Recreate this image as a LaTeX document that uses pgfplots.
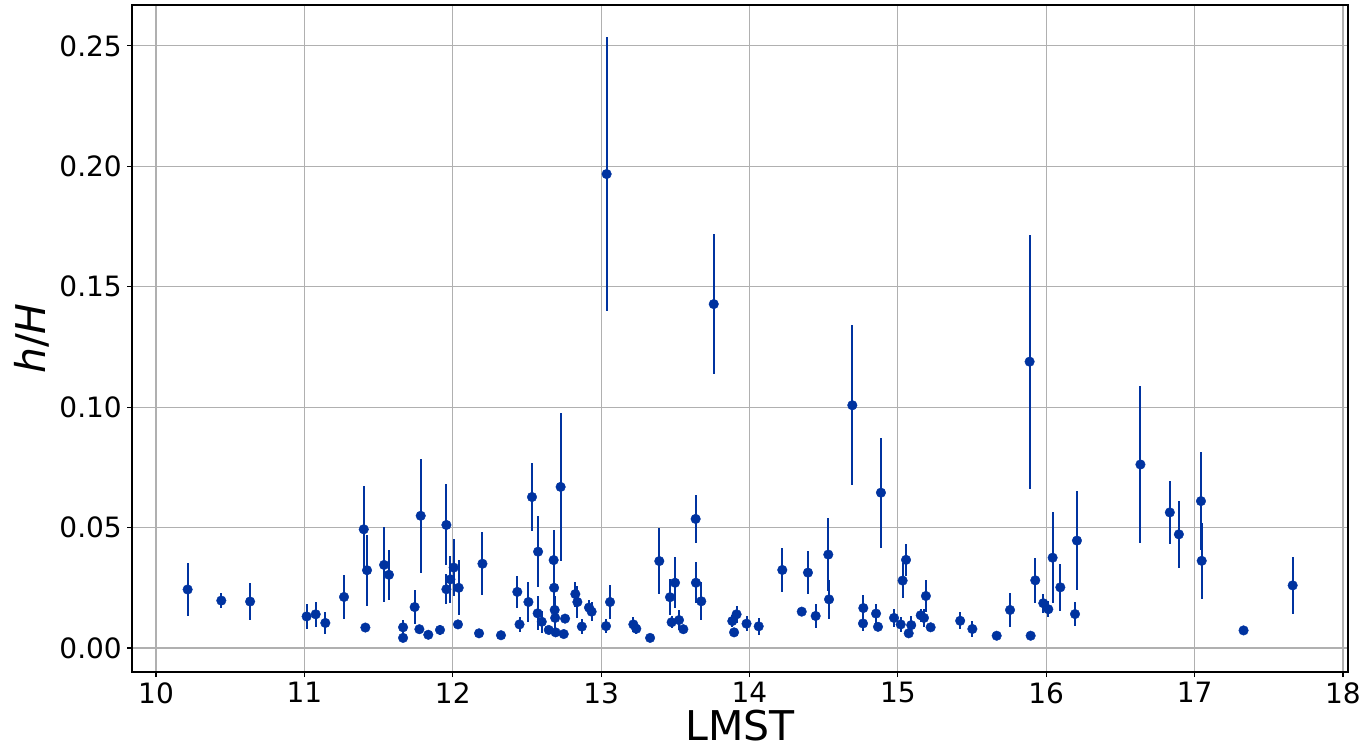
\documentclass[border=0pt]{standalone}
\usepackage{pgfplots}
\pgfplotsset{compat=1.18}
\usepackage{pgfplotstable}
\usepackage{fontspec}
\setmainfont{DejaVu Sans}
\definecolor{ptc}{RGB}{0,51,160}
\definecolor{gridc}{RGB}{176,176,176}
\pgfplotstableread{
x y e
10.213 0.0243 0.0110
10.440 0.0197 0.0031
10.634 0.0193 0.0077
11.015 0.0131 0.0050
11.076 0.0140 0.0052
11.141 0.0104 0.0044
11.267 0.0212 0.0090
11.400 0.0493 0.0180
11.411 0.0085 0.0015
11.422 0.0323 0.0148
11.537 0.0345 0.0156
11.570 0.0304 0.0105
11.665 0.0086 0.0030
11.665 0.0042 0.0010
11.743 0.0170 0.0070
11.775 0.0078 0.0015
11.784 0.0549 0.0236
11.835 0.0055 0.0010
11.914 0.0075 0.0020
11.957 0.0511 0.0168
11.957 0.0244 0.0063
11.984 0.0285 0.0099
12.006 0.0334 0.0118
12.035 0.0098 0.0015
12.040 0.0250 0.0114
12.200 0.0350 0.0130
12.177 0.0061 0.0015
12.325 0.0053 0.0012
12.435 0.0233 0.0067
12.450 0.0098 0.0030
12.510 0.0191 0.0083
12.534 0.0627 0.0143
12.575 0.0400 0.0147
12.572 0.0144 0.0070
12.600 0.0109 0.0046
12.647 0.0075 0.0015
12.680 0.0365 0.0125
12.683 0.0250 0.0080
12.687 0.0158 0.0060
12.690 0.0125 0.0040
12.693 0.0065 0.0020
12.727 0.0669 0.0306
12.757 0.0122 0.0020
12.748 0.0058 0.0010
12.826 0.0224 0.0052
12.840 0.0191 0.0066
12.870 0.0089 0.0030
12.918 0.0168 0.0030
12.936 0.0151 0.0040
13.033 0.0091 0.0030
13.037 0.1968 0.0570
13.060 0.0191 0.0070
13.217 0.0098 0.0030
13.237 0.0080 0.0020
13.330 0.0042 0.0010
13.392 0.0361 0.0138
13.464 0.0211 0.0075
13.498 0.0271 0.0106
13.475 0.0107 0.0025
13.525 0.0116 0.0040
13.554 0.0078 0.0015
13.637 0.0536 0.0100
13.639 0.0271 0.0085
13.675 0.0194 0.0079
13.759 0.1428 0.0290
13.884 0.0112 0.0025
13.913 0.0140 0.0035
13.896 0.0065 0.0015
13.980 0.0101 0.0032
14.062 0.0090 0.0035
14.221 0.0324 0.0092
14.352 0.0151 0.0015
14.394 0.0313 0.0090
14.446 0.0133 0.0050
14.531 0.0388 0.0150
14.536 0.0202 0.0081
14.693 0.1008 0.0332
14.767 0.0166 0.0054
14.765 0.0102 0.0030
14.853 0.0143 0.0039
14.866 0.0088 0.0015
14.886 0.0645 0.0228
14.974 0.0125 0.0038
15.019 0.0098 0.0030
15.032 0.0280 0.0073
15.055 0.0366 0.0067
15.073 0.0061 0.0015
15.090 0.0095 0.0038
15.154 0.0136 0.0028
15.176 0.0125 0.0038
15.189 0.0216 0.0066
15.221 0.0086 0.0015
15.420 0.0113 0.0035
15.502 0.0079 0.0034
15.666 0.0051 0.0010
15.756 0.0158 0.0072
15.888 0.1189 0.0528
15.895 0.0051 0.0010
15.926 0.0281 0.0093
15.980 0.0186 0.0040
16.014 0.0161 0.0033
16.043 0.0375 0.0188
16.095 0.0252 0.0097
16.194 0.0141 0.0049
16.207 0.0446 0.0207
16.635 0.0762 0.0327
16.833 0.0563 0.0130
16.894 0.0472 0.0140
17.043 0.0610 0.0205
17.048 0.0362 0.0158
17.330 0.0073 0.0015
17.661 0.0260 0.0118
}\datatable
\begin{document}
\begin{tikzpicture}
\begin{axis}[name=ax, width=1216pt, height=667pt, scale only axis,
  xmin=9.838, xmax=18.034, ymin=-0.00997, ymax=0.267,
  xtick={10,11,12,13,14,15,16,17,18},
  ytick={0,0.05,0.1,0.15,0.2,0.25},
  scaled y ticks=false,
  grid=major, major grid style={gridc, line width=1.1pt},
  axis line style={line width=1.1pt, black},
  tick align=outside, major tick length=5pt,
  tick style={black, line width=1.1pt},
  xtick pos=bottom, ytick pos=left,
  /pgf/number format/assume math mode=true,
  ticklabel style={font=\fontsize{28}{32}\selectfont, inner sep=0pt},
  xticklabel style={yshift=-5pt},
  yticklabel style={xshift=-5pt, /pgf/number format/fixed, /pgf/number format/fixed zerofill, /pgf/number format/precision=2},
  xlabel={LMST}, ylabel={\textit{h}/\textit{H}},
  label style={font=\fontsize{41}{46}\selectfont},
  xlabel style={inner sep=0pt, yshift=-6pt},
  ylabel style={inner sep=0pt, yshift=10pt},
]
\addplot[only marks, mark=*, mark size=4.8pt, color=ptc, mark options={draw=ptc, fill=ptc},
  error bars/.cd, y dir=both, y explicit, error mark=none,
  error bar style={line width=2pt, ptc}]
  table[x=x, y=y, y error=e] {\datatable};
\end{axis}
\pgfresetboundingbox
\path ([shift={(-132pt,-79pt)}]ax.south west) rectangle ([shift={(24pt,5pt)}]ax.north east);
\end{tikzpicture}
\end{document}
